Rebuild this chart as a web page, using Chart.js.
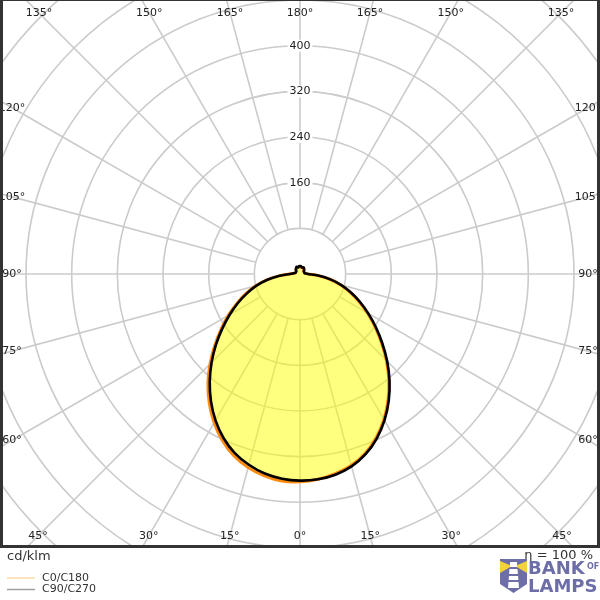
<!DOCTYPE html>
<html>
<head>
<meta charset="utf-8">
<script src="https://cdn.jsdelivr.net/npm/chart.js@4.4.1/dist/chart.umd.min.js"></script>
<style>
  html, body { margin: 0; padding: 0; background: #fff; }
  #wrap { width: 600px; height: 600px; }
</style>
</head>
<body>
<div id="wrap"><canvas id="ldc" width="600" height="600"></canvas></div>
<script>
// gamma angles (deg from nadir) and intensities in cd/klm for each half plane
const gammaAngles = [0, 5, 10, 15, 20, 25, 30, 35, 40, 45, 50, 55, 60, 65, 70, 75, 80, 85, 90,
  95, 100, 105, 110, 115, 120, 125, 130, 135, 140, 145, 150, 155, 160, 165, 170, 175, 180];
const c0Values = [364, 361, 355, 347, 334, 316, 294, 269, 242, 214, 186, 160, 136, 114, 93, 74, 53, 32, 14,
  10, 8, 8, 8, 8, 8, 8, 9, 10, 11, 12, 12, 12, 12, 12, 12, 13, 12];
const c180Values = [364, 364, 359, 351, 339, 322, 301, 277, 251, 223, 195, 169, 145, 122, 101, 80, 59, 37, 18,
  12, 9, 8, 8, 8, 8, 8, 9, 10, 11, 12, 12, 12, 12, 12, 12, 13, 12];
const c90Values = [362, 361, 357, 349, 336, 318, 296, 271, 244, 216, 188, 162, 138, 116, 95, 75, 54, 32, 14,
  10, 8, 8, 8, 8, 8, 8, 9, 10, 11, 12, 13, 13, 12, 12, 13, 14, 12];
const c270Values = [362, 360, 355, 346, 334, 317, 296, 272, 246, 219, 192, 166, 142, 120, 99, 79, 58, 36, 18,
  12, 9, 8, 8, 8, 8, 8, 9, 10, 11, 12, 13, 14, 13, 12, 13, 14, 12];

const ringValues = [80, 160, 240, 320, 400, 480, 560, 640];
const ringLabels = [160, 240, 320, 400];
const spokeAngles = [0, 15, 30, 45, 60, 75, 90, 105, 120, 135, 150, 165, 180,
  195, 210, 225, 240, 255, 270, 285, 300, 315, 330, 345];
const seriesNames = ['C0/C180', 'C90/C270'];
const unitLabel = 'cd/klm';
const efficiencyLabel = 'η = 100 %';

// plot box and scale
const box = { left: 3, top: 1, right: 597, bottom: 545 };
const pxPerUnit = 0.5708;
const centerY = 274;

// left half goes 180 -> 0 on the left, right half 0 -> 180 on the right
function toPoints(leftVals, rightVals) {
  const pts = [];
  for (let i = gammaAngles.length - 1; i >= 0; i--) {
    const t = gammaAngles[i] * Math.PI / 180;
    pts.push({ x: -leftVals[i] * Math.sin(t), y: -leftVals[i] * Math.cos(t) });
  }
  for (let i = 1; i < gammaAngles.length; i++) {
    const t = gammaAngles[i] * Math.PI / 180;
    pts.push({ x: rightVals[i] * Math.sin(t), y: -rightVals[i] * Math.cos(t) });
  }
  return pts;
}

const FONT = '"DejaVu Sans", sans-serif';

const polarGrid = {
  id: 'polarGrid',
  beforeDatasetsDraw(chart) {
    const { ctx, chartArea: a, scales: { x, y } } = chart;
    const cx = x.getPixelForValue(0), cy = y.getPixelForValue(0);
    const unit = x.getPixelForValue(1) - cx;
    ctx.save();
    ctx.beginPath();
    ctx.rect(a.left, a.top, a.right - a.left, a.bottom - a.top);
    ctx.clip();
    ctx.strokeStyle = '#cbcbcb';
    ctx.lineWidth = 1.6;
    ringValues.forEach(v => {
      ctx.beginPath();
      ctx.arc(cx, cy, v * unit, 0, Math.PI * 2);
      ctx.stroke();
    });
    const r0 = ringValues[0] * unit, r1 = 1200 * unit;
    spokeAngles.forEach(g => {
      const t = g * Math.PI / 180;
      const dx = Math.sin(t), dy = Math.cos(t);
      ctx.beginPath();
      ctx.moveTo(cx + dx * r0, cy + dy * r0);
      ctx.lineTo(cx + dx * r1, cy + dy * r1);
      ctx.stroke();
    });

    // angle labels along the inside of the frame
    ctx.fillStyle = '#222';
    ctx.font = '11px ' + FONT;
    ctx.textAlign = 'center';
    ctx.textBaseline = 'middle';
    const L = a.left + 9, R = a.right - 9, T = a.top + 12, B = a.bottom - 9;
    spokeAngles.forEach(g => {
      const t = g * Math.PI / 180;
      const dx = Math.sin(t), dy = Math.cos(t);
      let s = Infinity;
      if (dx > 1e-6) s = Math.min(s, (R - cx) / dx);
      if (dx < -1e-6) s = Math.min(s, (L - cx) / dx);
      if (dy > 1e-6) s = Math.min(s, (B - cy) / dy);
      if (dy < -1e-6) s = Math.min(s, (T - cy) / dy);
      const lab = (g <= 180 ? g : 360 - g) + '°';
      ctx.fillText(lab, cx + dx * s, cy + dy * s);
    });

    // radial value labels on the upper axis
    ringLabels.forEach(v => {
      const py = y.getPixelForValue(v);
      const w = ctx.measureText(String(v)).width + 4;
      ctx.fillStyle = '#fff';
      ctx.fillRect(cx - w / 2, py - 6, w, 12);
      ctx.fillStyle = '#222';
      ctx.fillText(String(v), cx, py);
    });
    ctx.restore();
  }
};

function drawLogo(ctx) {
  const purple = '#6d6ea8';
  ctx.save();
  ctx.fillStyle = purple;
  ctx.beginPath();
  ctx.moveTo(500, 559);
  ctx.lineTo(527, 559);
  ctx.lineTo(527, 584);
  ctx.lineTo(513.5, 593);
  ctx.lineTo(500, 584);
  ctx.closePath();
  ctx.fill();
  ctx.fillStyle = '#f3d23a';
  ctx.beginPath();
  ctx.moveTo(512, 566); ctx.lineTo(500, 561); ctx.lineTo(500, 573); ctx.closePath(); ctx.fill();
  ctx.beginPath();
  ctx.moveTo(515, 566); ctx.lineTo(527, 561); ctx.lineTo(527, 573); ctx.closePath(); ctx.fill();
  ctx.fillStyle = '#fff';
  ctx.fillRect(510, 562, 7, 5);
  ctx.beginPath();
  ctx.moveTo(509.5, 569); ctx.lineTo(517.5, 569); ctx.lineTo(519, 588); ctx.lineTo(508, 588);
  ctx.closePath();
  ctx.fill();
  ctx.fillStyle = purple;
  ctx.fillRect(508, 574, 11, 2);
  ctx.fillRect(508, 580, 11, 2);
  ctx.textAlign = 'left';
  ctx.textBaseline = 'alphabetic';
  ctx.font = 'bold 18px ' + FONT;
  ctx.fillText('BANK', 528, 574);
  ctx.fillText('LAMPS', 528, 592);
  ctx.font = 'bold 8px ' + FONT;
  ctx.fillText('OF', 587, 569);
  ctx.restore();
}

const frameAndNotes = {
  id: 'frameAndNotes',
  afterDraw(chart) {
    const { ctx, chartArea: a } = chart;
    ctx.save();
    ctx.strokeStyle = '#333';
    ctx.lineWidth = 3;
    ctx.strokeRect(a.left - 1.5, a.top - 1.5, a.right - a.left + 3, a.bottom - a.top + 3);

    ctx.fillStyle = '#333';
    ctx.font = '13px ' + FONT;
    ctx.textBaseline = 'middle';
    ctx.textAlign = 'left';
    ctx.fillText(unitLabel, 7, 557);
    ctx.textAlign = 'right';
    ctx.fillText(efficiencyLabel, 593, 556);

    const legendColors = ['#fcd9aa', '#a0a0a0'];
    ctx.textAlign = 'left';
    ctx.font = '11px ' + FONT;
    seriesNames.forEach((name, i) => {
      const ly = 578 + i * 11.5;
      ctx.strokeStyle = legendColors[i];
      ctx.lineWidth = 1.5;
      ctx.beginPath();
      ctx.moveTo(7, ly);
      ctx.lineTo(35, ly);
      ctx.stroke();
      ctx.fillStyle = '#333';
      ctx.fillText(name, 42, ly);
    });
    ctx.restore();
    drawLogo(ctx);
  }
};

const xHalf = (box.right - box.left) / 2 / pxPerUnit;
const yTop = (centerY - box.top) / pxPerUnit;
const yBottom = (box.bottom - centerY) / pxPerUnit;

new Chart(document.getElementById('ldc'), {
  type: 'scatter',
  data: {
    datasets: [
      {
        label: seriesNames[0],
        data: toPoints(c180Values, c0Values),
        showLine: true,
        borderColor: '#ff8c10',
        borderWidth: 3,
        backgroundColor: 'rgba(255, 255, 0, 0.5)',
        fill: 'shape',
        pointRadius: 0,
        tension: 0.3,
        order: 2
      },
      {
        label: seriesNames[1],
        data: toPoints(c270Values, c90Values),
        showLine: true,
        borderColor: '#000',
        borderWidth: 2.6,
        fill: false,
        pointRadius: 0,
        tension: 0.3,
        order: 1
      }
    ]
  },
  options: {
    responsive: false,
    animation: false,
    devicePixelRatio: 1,
    layout: { padding: { left: box.left, right: 600 - box.right, top: box.top, bottom: 600 - box.bottom } },
    scales: {
      x: { type: 'linear', min: -xHalf, max: xHalf, display: false },
      y: { type: 'linear', min: -yBottom, max: yTop, display: false }
    },
    plugins: {
      legend: { display: false },
      tooltip: { enabled: false }
    }
  },
  plugins: [polarGrid, frameAndNotes]
});
</script>
</body>
</html>
